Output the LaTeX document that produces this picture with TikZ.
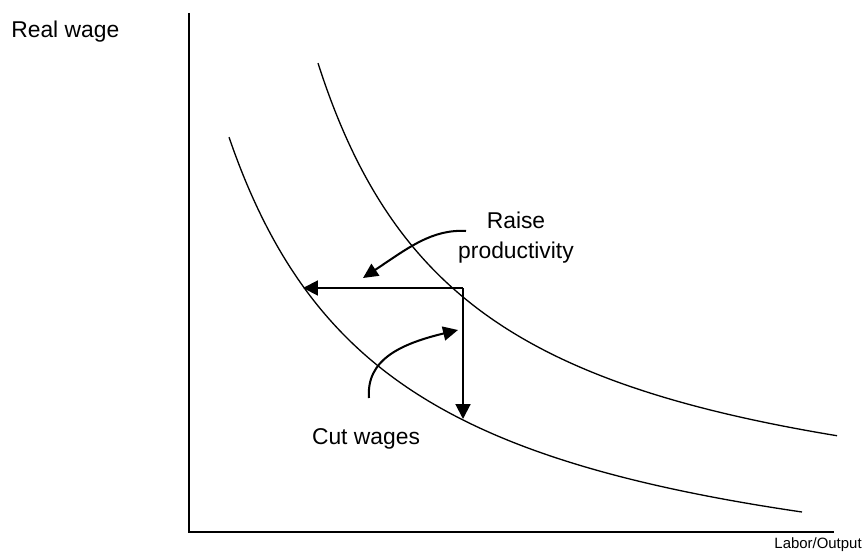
\documentclass[tikz,border=0pt]{standalone}
\usepackage{fontspec}
\setmainfont{Liberation Sans}
\usepackage{tikz}
\usetikzlibrary{calc,positioning,arrows.meta}

\tikzset{
  costcurve/.style={line width=0.75pt, black, samples=120, smooth},
  shiftarrow/.style={line width=1.15pt, -{Triangle[length=8.5pt,width=8.5pt]}},
  notearrow/.style={line width=1.15pt, -{Triangle[length=8.5pt,width=8pt]}},
  lbl/.style={font=\fontsize{13}{17}\selectfont, inner sep=0pt, align=center}
}

\begin{document}
\begin{tikzpicture}[x=0.02cm, y=-0.02cm]
\useasboundingbox (0,0) rectangle (865,557);
% axes
\coordinate (top) at (189,13);
\coordinate (origin) at (189,532);
\coordinate (right) at (834,532);
\draw[line width=0.9pt] (top) -- (origin) -- (right);
\node[lbl, anchor=west] (wage) at (11,32) {Real wage};
\node[lbl, anchor=east, font=\fontsize{8.5}{10}\selectfont] (ratio) at (862,545) {Labor/Output};
% high and low cost curves
\draw[costcurve] plot[domain=318:837] (\x, {547-750/((\x-163)/100)});
\draw[costcurve] plot[domain=229:802] (\x, {620.6-802.5/((\x-63)/100)});
% moves between the curves
\coordinate (corner) at (463,288);
\coordinate (left) at (303,288);
\coordinate (down) at (463,419);
\draw[shiftarrow] (corner) -- (left);
\draw[shiftarrow] (corner) -- (down);
% labels and pointers
\node[lbl] (raise) at (516,238) {Raise\\productivity};
\node[lbl] (cut) at (366,439) {Cut wages};
\coordinate (raisefrom) at (466,231);
\coordinate (raiseto) at (363,278);
\coordinate (cutfrom) at (369,398);
\coordinate (cutto) at (458,330);
\draw[notearrow] (raisefrom) .. controls (432,229) and (408,248) .. (raiseto);
\draw[notearrow] (cutfrom) .. controls (366,360) and (400,344) .. (cutto);
\end{tikzpicture}
\end{document}
